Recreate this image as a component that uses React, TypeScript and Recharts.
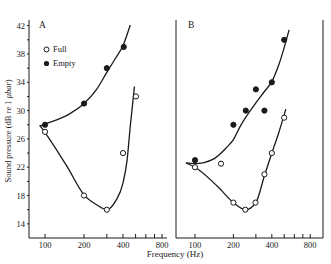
import React from 'react';
import { LineChart, Line, XAxis, YAxis } from 'recharts';

// measured points (dB re 1 µbar), frequency in Hz
const fullPtsA = [
  { f: 100, db: 27 }, { f: 200, db: 18 }, { f: 300, db: 16 }, { f: 400, db: 24 }, { f: 503, db: 32 },
];
const emptyPtsA = [
  { f: 100, db: 28 }, { f: 200, db: 31 }, { f: 300, db: 36 }, { f: 405, db: 39 },
];
const fullPtsB = [
  { f: 100, db: 22 }, { f: 160, db: 22.5 }, { f: 200, db: 17 }, { f: 248, db: 16 },
  { f: 298, db: 17 }, { f: 350, db: 21 }, { f: 400, db: 24 }, { f: 500, db: 29 },
];
const emptyPtsB = [
  { f: 100, db: 23 }, { f: 200, db: 28 }, { f: 250, db: 30 }, { f: 300, db: 33 },
  { f: 350, db: 30 }, { f: 400, db: 34 }, { f: 500, db: 40 },
];

// fitted curves
const fullCurveA = [
  { f: 91, db: 27.9 }, { f: 100, db: 26.9 }, { f: 150, db: 21.9 }, { f: 200, db: 18.1 },
  { f: 250, db: 16.7 }, { f: 300, db: 16.0 }, { f: 350, db: 17.2 }, { f: 400, db: 19.8 },
  { f: 430, db: 23.0 }, { f: 455, db: 27.8 }, { f: 490, db: 33.4 },
];
const emptyCurveA = [
  { f: 91, db: 27.8 }, { f: 100, db: 28.1 }, { f: 150, db: 29.4 }, { f: 200, db: 31.0 },
  { f: 250, db: 33.0 }, { f: 300, db: 35.4 }, { f: 350, db: 37.4 }, { f: 400, db: 39.2 },
  { f: 455, db: 42.1 },
];
const fullCurveB = [
  { f: 85, db: 22.6 }, { f: 100, db: 22.0 }, { f: 150, db: 19.3 }, { f: 200, db: 17.0 },
  { f: 250, db: 16.0 }, { f: 300, db: 17.0 }, { f: 350, db: 20.8 }, { f: 400, db: 24.0 },
  { f: 450, db: 26.7 }, { f: 515, db: 30.2 },
];
const emptyCurveB = [
  { f: 85, db: 22.6 }, { f: 100, db: 22.5 }, { f: 138, db: 23.1 }, { f: 175, db: 24.7 },
  { f: 200, db: 25.9 }, { f: 225, db: 27.7 }, { f: 300, db: 31.1 }, { f: 350, db: 32.7 },
  { f: 400, db: 34.1 }, { f: 450, db: 36.3 }, { f: 500, db: 38.9 }, { f: 546, db: 41.4 },
];

const freqTicks = [100, 200, 300, 400, 500, 600, 700, 800];
const freqLabels = [100, 200, 400, 800];
const dbTicks = [14, 16, 18, 20, 22, 24, 26, 28, 30, 32, 34, 36, 38, 40, 42];
const dbLabels = [14, 18, 22, 26, 30, 34, 38, 42];

const SERIF = '"Liberation Serif", "DejaVu Serif", serif';
const INK = '#1a1a1a';
const tickFont = { fontSize: 8.5, fontFamily: SERIF, fill: INK };
const Y_DOMAIN = [12, 42.8];

const openDot = { r: 2.6, fill: '#fff', stroke: INK, strokeWidth: 1 };
const solidDot = { r: 2.6, fill: INK, stroke: INK, strokeWidth: 1 };

const series = (full: any[], empty: any[], fullPts: any[], emptyPts: any[]) => [
  <Line key="fc" data={full} dataKey="db" type="monotone" stroke={INK} strokeWidth={1.3} dot={false} activeDot={false} isAnimationActive={false} />,
  <Line key="ec" data={empty} dataKey="db" type="monotone" stroke={INK} strokeWidth={1.3} dot={false} activeDot={false} isAnimationActive={false} />,
  <Line key="fp" data={fullPts} dataKey="db" stroke="none" dot={openDot} activeDot={false} isAnimationActive={false} />,
  <Line key="ep" data={emptyPts} dataKey="db" stroke="none" dot={solidDot} activeDot={false} isAnimationActive={false} />,
];

const freqAxis = (domain: number[]) => (
  <XAxis
    dataKey="f"
    type="number"
    scale="log"
    domain={domain}
    allowDataOverflow
    ticks={freqTicks}
    interval={0}
    tickFormatter={(v: number) => (freqLabels.includes(v) ? String(v) : '')}
    tick={tickFont}
    tickSize={-4}
    tickMargin={8}
    height={20}
    stroke={INK}
  />
);

const App = () => {
  return (
    <div style={{ position: 'fixed', left: 0, top: 0, width: 331, height: 264, background: '#fff', fontFamily: SERIF, color: INK }}>
      {/* Panel A */}
      <div style={{ position: 'absolute', left: 0, top: 0 }}>
        <LineChart width={175} height={264} margin={{ top: 20, right: 8, bottom: 6, left: 0 }}>
          {freqAxis([75.2, 874])}
          <YAxis type="number" domain={Y_DOMAIN} allowDataOverflow ticks={dbTicks} interval={0} width={29}
            tickFormatter={(v: number) => (dbLabels.includes(v) ? String(v) : '')}
            tick={tickFont} tickSize={2} tickMargin={2} stroke={INK} />
          <YAxis yAxisId="in" type="number" domain={Y_DOMAIN} allowDataOverflow ticks={dbTicks} interval={0}
            mirror axisLine={false} tick={false} tickSize={4} stroke={INK} />
          {series(fullCurveA, emptyCurveA, fullPtsA, emptyPtsA)}
        </LineChart>
      </div>

      {/* Panel B */}
      <div style={{ position: 'absolute', left: 160, top: 0 }}>
        <LineChart width={171} height={264} margin={{ top: 20, right: 8, bottom: 6, left: 0 }}>
          {freqAxis([71, 1007])}
          <YAxis type="number" domain={Y_DOMAIN} allowDataOverflow ticks={dbTicks} interval={0} width={16}
            tick={false} tickSize={4} stroke={INK} />
          <YAxis yAxisId="in" type="number" domain={Y_DOMAIN} allowDataOverflow ticks={dbTicks} interval={0}
            mirror axisLine={false} tick={false} tickSize={4} stroke={INK} />
          <YAxis yAxisId="r" orientation="right" type="number" domain={Y_DOMAIN} allowDataOverflow ticks={dbTicks} interval={0}
            mirror tick={false} tickSize={4} stroke={INK} />
          {series(fullCurveB, emptyCurveB, fullPtsB, emptyPtsB)}
        </LineChart>
      </div>

      {/* panel letters */}
      <div style={{ position: 'absolute', left: 39, top: 20, fontSize: 9.5 }}>A</div>
      <div style={{ position: 'absolute', left: 188, top: 20, fontSize: 9.5 }}>B</div>

      {/* legend */}
      <div style={{ position: 'absolute', left: 43, top: 42, fontSize: 8.5, lineHeight: '14px' }}>
        <div style={{ display: 'flex', alignItems: 'center' }}>
          <svg width={7} height={7} style={{ marginRight: 3 }}><circle cx={3.5} cy={3.5} r={2.5} fill="#fff" stroke={INK} strokeWidth={1} /></svg>
          Full
        </div>
        <div style={{ display: 'flex', alignItems: 'center' }}>
          <svg width={7} height={7} style={{ marginRight: 3 }}><circle cx={3.5} cy={3.5} r={2.6} fill={INK} /></svg>
          Empty
        </div>
      </div>

      {/* axis titles */}
      <div style={{ position: 'absolute', left: 8, top: 131, transform: 'translate(-50%, -50%) rotate(-90deg)', whiteSpace: 'nowrap', fontSize: 8.5 }}>
        Sound pressure (dB re 1 <i>μbar</i>)
      </div>
      <div style={{ position: 'absolute', left: 175, top: 254, transform: 'translate(-50%, -50%)', whiteSpace: 'nowrap', fontSize: 9 }}>
        Frequency (Hz)
      </div>
    </div>
  );
};

export default App;
